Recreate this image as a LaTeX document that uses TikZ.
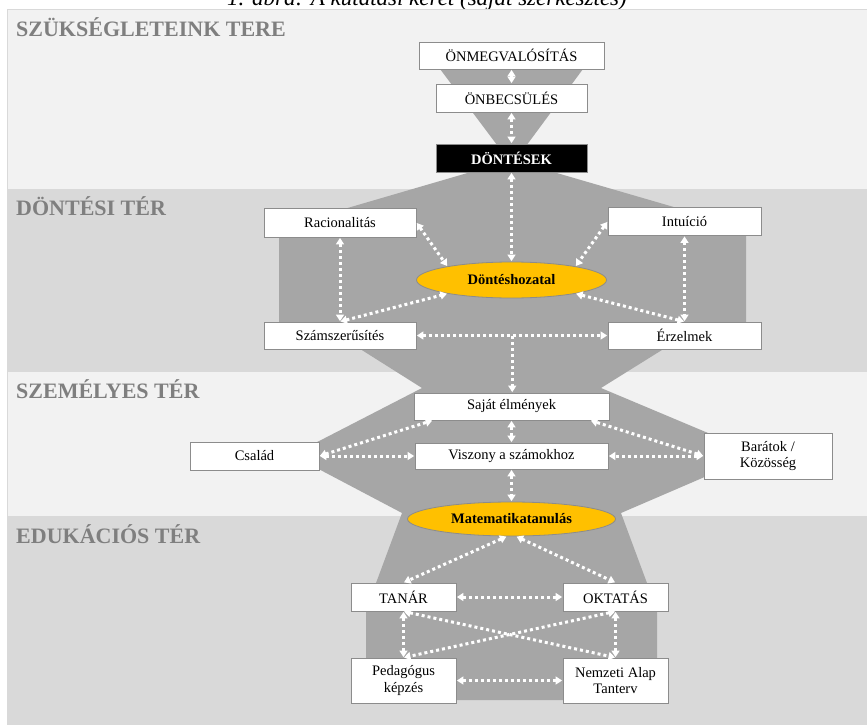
\documentclass[tikz,border=0pt]{standalone}
\usepackage{fontspec}
\setmainfont{Liberation Serif}
\usetikzlibrary{shapes,arrows.meta,positioning,calc}

\definecolor{lightband}{HTML}{F2F2F2}
\definecolor{darkband}{HTML}{D9D9D9}
\definecolor{funnelgray}{HTML}{A6A6A6}
\definecolor{titlegray}{HTML}{7F7F7F}
\definecolor{boxline}{HTML}{8C8C8C}
\definecolor{gold}{HTML}{FFC000}

\begin{document}
\begin{tikzpicture}[x=1pt,y=-1pt,
    band/.style={draw=black!15,line width=0.7pt},
    bandtitle/.style={anchor=base west,inner sep=0pt,text=titlegray,font=\fontsize{22}{24}\selectfont\bfseries},
    box/.style 2 args={draw=boxline,fill=white,line width=0.8pt,minimum width=#1pt,minimum height=#2pt,inner sep=0pt,align=center,font=\fontsize{14.5}{16.5}\selectfont},
    goal/.style={ellipse,draw=boxline,fill=gold,line width=0.8pt,inner sep=0pt,font=\fontsize{14.5}{16.5}\selectfont\bfseries},
    link/.style={white,line width=3pt,dash pattern=on 3pt off 3pt,{Triangle[length=6.5pt,width=8pt]}-{Triangle[length=6.5pt,width=8pt]},shorten <=0.5pt,shorten >=0.5pt},
    linkone/.style={link,-{Triangle[length=6.5pt,width=8pt]}}
]
    \useasboundingbox (0,0) rectangle (867,725);
    \clip (0,0) rectangle (867,725);

    % Caption (cut off at the top)
    \node[anchor=base,inner sep=0pt,font=\fontsize{23}{25}\selectfont\itshape] (caption) at (427,6) {1. ábra: A kutatási keret (saját szerkesztés)};

    % Bands
    \draw[band,fill=lightband] (7,9) rectangle (880,189);
    \draw[band,fill=darkband] (7,189) rectangle (880,371);
    \draw[band,fill=lightband] (7,371) rectangle (880,516);
    \draw[band,fill=darkband] (7,516) rectangle (880,740);

    % Funnels
    \fill[funnelgray] (440,69) -- (583,69) -- (512,165) -- cycle;
    \fill[funnelgray] (512,160) -- (746,228) -- (746,335) -- (686,335) -- (601,388) -- (758,454) -- (621,513) -- (657,610) -- (657,700)
        -- (366,700) -- (366,610) -- (402,513) -- (292,455) -- (422,388) -- (338,335) -- (279,335) -- (279,228) -- cycle;

    % Titles
    \node[bandtitle] (needs) at (16,37) {SZÜKSÉGLETEINK TERE};
    \node[bandtitle] (decision) at (16,215) {DÖNTÉSI TÉR};
    \node[bandtitle] (personal) at (16,398) {SZEMÉLYES TÉR};
    \node[bandtitle] (education) at (16,543) {EDUKÁCIÓS TÉR};

    % Needs
    \node[box={185}{27}] (selfreal) at (511.5,55.5) {ÖNMEGVALÓSÍTÁS};
    \node[box={151}{28}] (esteem) at (511.5,98) {ÖNBECSÜLÉS};
    \node[box={151}{28},fill=black,text=white,font=\fontsize{14.5}{16.5}\selectfont\bfseries] (decisions) at (511.5,158) {DÖNTÉSEK};

    % Decision space
    \node[box={152}{29}] (racio) at (340,222.5) {Racionalitás};
    \node[box={153}{28}] (intu) at (684.5,221.5) {Intuíció};
    \node[goal,minimum width=190pt,minimum height=36pt] (dhoz) at (511.5,280) {Döntéshozatal};
    \node[box={152}{27}] (szam) at (340,335.5) {Számszerűsítés};
    \node[box={153}{27}] (erz) at (684.5,335.5) {Érzelmek};

    % Personal space
    \node[box={195}{27}] (sajat) at (511.5,406.5) {Saját élmények};
    \node[box={193}{26}] (viszony) at (511.5,456) {Viszony a számokhoz};
    \node[box={129}{28}] (csalad) at (254.5,456) {Család};
    \node[box={128}{46}] (baratok) at (768,456) {Barátok /\\Közösség};
    \node[goal,minimum width=208pt,minimum height=34pt] (matek) at (511.5,519) {Matematikatanulás};

    % Education space
    \node[box={105}{28}] (tanar) at (403.5,597) {TANÁR};
    \node[box={105}{28}] (oktatas) at (615.5,597) {OKTATÁS};
    \node[box={105}{45}] (pedag) at (403.5,680.5) {Pedagógus\\képzés};
    \node[box={105}{45}] (nat) at (615.5,680.5) {Nemzeti Alap\\Tanterv};

    % Connectors
    \draw[link] (selfreal) -- (esteem);
    \draw[link] (esteem) -- (decisions);
    \draw[link] (decisions) -- (dhoz);
    \draw[link] (racio.east) -- (dhoz.168);
    \draw[link] (intu.west) -- (dhoz.12);
    \draw[link] (racio) -- (szam);
    \draw[link] (intu) -- (erz);
    \draw[link] (szam.north) -- (dhoz.192);
    \draw[link] (erz.north) -- (dhoz.348);
    \draw[link] (szam) -- (erz);
    \coordinate (split) at ($(szam)!0.5!(erz)$);
    \draw[linkone] (split) -- (split |- sajat.north);

    \draw[link] (sajat) -- (viszony);
    \draw[link] (viszony) -- (matek);
    \draw[link] (csalad) -- (viszony);
    \draw[link] (baratok) -- (viszony);
    \draw[link] (csalad.east) -- (sajat.190);
    \draw[link] (baratok.west) -- (sajat.350);

    \draw[link] (matek.255) -- (tanar.north);
    \draw[link] (matek.285) -- (oktatas.north);
    \draw[link] (tanar) -- (oktatas);
    \draw[link] (tanar) -- (pedag);
    \draw[link] (oktatas) -- (nat);
    \draw[link] (tanar.south) -- (nat.north);
    \draw[link] (oktatas.south) -- (pedag.north);
    \draw[link] (pedag) -- (nat);
\end{tikzpicture}
\end{document}
